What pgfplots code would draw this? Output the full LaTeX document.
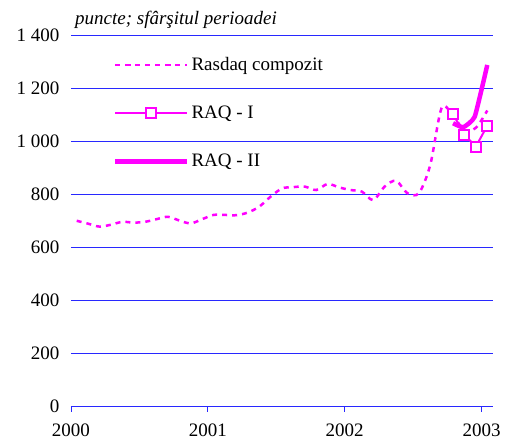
\documentclass[border=0pt]{standalone}
\usepackage{fontspec}
\setmainfont{Liberation Serif}
\usepackage{pgfplots}
\pgfplotsset{compat=1.18}
\definecolor{mag}{HTML}{FF00FF}
\definecolor{gridblue}{HTML}{2828FF}

\begin{document}
\begin{tikzpicture}[font=\fontsize{19}{22}\selectfont]
  \useasboundingbox (-71pt,-33pt) rectangle (446pt,406pt);
  \begin{axis}[
    at={(0,0)}, anchor=south west,
    scale only axis, width=422pt, height=371pt,
    xmin=0, xmax=37, ymin=0, ymax=1400,
    axis x line*=bottom, axis y line*=left,
    x axis line style={gridblue, line width=0.8pt, -},
    y axis line style={draw=none},
    xtick={0,12,24,36}, xticklabels={2000,2001,2002,2003},
    xtick align=outside, major tick length=6pt,
    xtick style={gridblue, line width=0.8pt},
    xticklabel style={yshift=-8pt},
    ytick={0,200,...,1400}, ytick style={draw=none},
    ymajorgrids, grid style={gridblue, line width=0.8pt},
    yticklabel style={xshift=-8pt},
    /pgf/number format/.cd, 1000 sep={\ }, assume math mode=true, /pgfplots/.cd,
    clip mode=individual,
    legend cell align=left,
    legend style={draw=none, fill=none, at={(0.092,0.945)}, anchor=north west,
      row sep=34pt, nodes={inner xsep=2pt, inner ysep=0pt}},
    legend image code/.code={\draw[mark repeat=2, mark phase=2, #1] plot coordinates {(0pt,0pt) (36pt,0pt) (72pt,0pt)};},
  ]
    \addplot[mag, line width=2.5pt, dash pattern=on 5pt off 5pt, smooth, tension=0.5] coordinates {
      (0.5,699) (1.5,688) (2.5,677) (3.5,684) (4.5,695) (5.5,692) (6.5,695)
      (7.5,705) (8.5,714) (9.5,700) (10.5,689) (11.5,705) (12.5,721) (13.5,721)
      (14.5,720) (15.5,730) (16.5,752) (17.5,790) (18.5,821) (19.5,826) (20.5,828)
      (21.5,815) (22.5,838) (23.5,825) (24.5,815) (25.5,809) (26.5,777) (27.5,828)
      (28.5,850) (29.5,803) (30.5,803) (31.5,910) (32.5,1125) (33.5,1095)
      (34.5,1040) (35.5,1050) (36.5,1115)
    };
    \addlegendentry{Rasdaq compozit}

    \addplot[mag, line width=2pt, mark=square*, mark size=5pt,
      mark options={fill=white, line width=2pt}] coordinates {
      (33.5,1101) (34.5,1023) (35.5,979) (36.5,1058)
    };
    \addlegendentry{RAQ - I}

    \addplot[mag, line width=4.5pt, smooth, tension=0.25] coordinates {
      (33.5,1067) (34.4,1052) (35.4,1092) (36.5,1287)
    };
    \addlegendentry{RAQ - II}

    \node[anchor=base west, inner sep=0pt, font=\fontsize{19}{22}\selectfont\itshape] at ([xshift=4pt,yshift=10pt]rel axis cs:0,1) {puncte; sfârşitul perioadei};
  \end{axis}
\end{tikzpicture}
\end{document}
